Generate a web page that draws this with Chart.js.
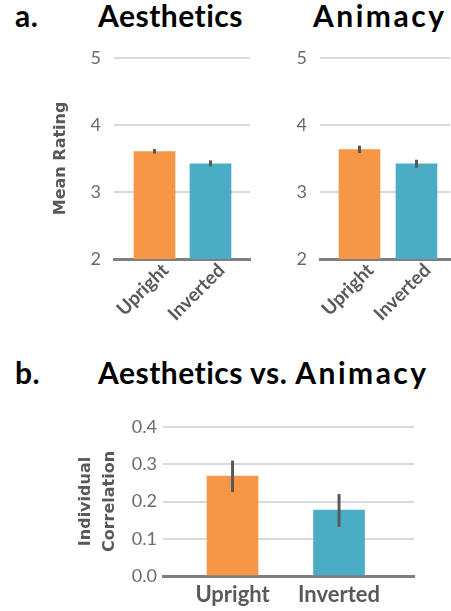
<!DOCTYPE html>
<html>
<head>
<meta charset="utf-8">
<script src="https://cdn.jsdelivr.net/npm/chart.js@4"></script>
<style>
  html, body { margin: 0; padding: 0; background: #fff; overflow: hidden; }
  body { width: 451px; height: 611px; position: relative; font-family: "Lato", sans-serif; }
  canvas { position: absolute; }
  .head { position: absolute; font-weight: 700; font-size: 30px; line-height: 1; color: #000; white-space: nowrap; letter-spacing: 0.5px; }
  .wide { letter-spacing: 2.5px; }
</style>
</head>
<body>
<div class="head" style="left:15px;top:0px;">a.</div>
<div class="head" style="left:98px;top:0px;">Aesthetics</div>
<div class="head wide" style="left:313px;top:0px;">Animacy</div>
<div class="head" style="left:15px;top:357px;">b.</div>
<div class="head" style="left:98px;top:357px;">Aesthetics vs. <span class="wide">Animacy</span></div>

<canvas id="chartA" width="205" height="291" style="left:50px;top:34px;width:205px;height:291px;"></canvas>
<canvas id="chartB" width="181" height="291" style="left:270px;top:34px;width:181px;height:291px;"></canvas>
<canvas id="chartC" width="360" height="201" style="left:60px;top:410px;width:360px;height:201px;"></canvas>

<script>
const cats = ['Upright', 'Inverted'];
const barColors = ['#F79646', '#4BACC6'];

// a. mean ratings (with error bar ends)
const aesMeans = [3.60, 3.42];
const aesLow = [3.57, 3.38];
const aesHigh = [3.64, 3.47];
const aniMeans = [3.63, 3.42];
const aniLow = [3.58, 3.36];
const aniHigh = [3.69, 3.48];
const ratingTicks = [2, 3, 4, 5];

// b. individual correlation
const corrMeans = [0.268, 0.177];
const corrLow = [0.225, 0.132];
const corrHigh = [0.31, 0.22];
const corrTicks = [0, 0.1, 0.2, 0.3, 0.4];

const gray = '#595959';
const tickGray = '#6b6b6b';

const errorBars = {
  id: 'errorBars',
  afterDatasetsDraw(chart, args, opts) {
    const ctx = chart.ctx;
    const x = chart.scales.x, y = chart.scales.y;
    ctx.save();
    ctx.strokeStyle = gray;
    ctx.lineWidth = 3;
    opts.low.forEach((lo, i) => {
      const px = x.getPixelForValue(i);
      ctx.beginPath();
      ctx.moveTo(px, y.getPixelForValue(lo));
      ctx.lineTo(px, y.getPixelForValue(opts.high[i]));
      ctx.stroke();
    });
    ctx.restore();
  }
};

const makeChart = (id, cfg) => {
  const ctx = document.getElementById(id).getContext('2d');
  return new Chart(ctx, {
    type: 'bar',
    data: {
      datasets: [{
        data: cfg.means.map((v, i) => ({x: i, y: v})),
        backgroundColor: barColors,
        borderWidth: 0,
        barThickness: cfg.barWidth
      }]
    },
    options: {
      responsive: false,
      animation: false,
      devicePixelRatio: 1,
      layout: { padding: cfg.padding },
      plugins: {
        legend: { display: false },
        tooltip: { enabled: false },
        errorBars: { low: cfg.low, high: cfg.high }
      },
      scales: {
        x: {
          type: 'linear',
          min: cfg.xMin,
          max: cfg.xMax,
          bounds: 'data',
          offset: false,
          grid: { display: false, drawTicks: false },
          border: { display: true, color: '#7f7f7f', width: 3 },
          afterFit: s => { s.height = cfg.xHeight; },
          afterBuildTicks: s => { s.ticks = cats.map((c, i) => ({value: i})); },
          ticks: {
            autoSkip: false,
            minRotation: cfg.rot,
            maxRotation: cfg.rot,
            padding: cfg.xPad,
            labelOffset: cfg.labelShift,
            color: gray,
            font: { family: 'Lato', size: cfg.xFont, weight: 'bold' },
            callback: v => cats[v] !== undefined ? cats[v] : ''
          }
        },
        y: {
          min: cfg.ticks[0],
          max: cfg.ticks[cfg.ticks.length - 1],
          afterFit: s => { s.width = cfg.yWidth; },
          afterBuildTicks: s => { s.ticks = cfg.ticks.map(v => ({value: v})); },
          grid: { color: '#d9d9d9', lineWidth: 2, drawTicks: false },
          border: { display: false },
          ticks: {
            padding: cfg.yPad,
            color: tickGray,
            font: { family: 'Lato', size: 18 },
            callback: cfg.fmt
          },
          title: {
            display: !!cfg.yTitle,
            text: cfg.yTitle,
            color: gray,
            padding: { top: cfg.titlePad, bottom: 0 },
            font: { family: 'DejaVu Sans', size: 16, weight: 'bold', lineHeight: cfg.titleLH }
          }
        }
      }
    },
    plugins: [errorBars]
  });
};

makeChart('chartA', {
  means: aesMeans, low: aesLow, high: aesHigh, ticks: ratingTicks,
  barWidth: 41, xMin: -0.723, xMax: 1.705, rot: 45, xPad: 0, labelShift: 11, xFont: 19, xHeight: 66,
  yWidth: 64, yPad: 13, padding: { top: 2, right: 5, bottom: 0, left: 0 },
  yTitle: 'Mean Rating', titlePad: 1, titleLH: 1.2,
  fmt: v => String(v)
});

makeChart('chartB', {
  means: aniMeans, low: aniLow, high: aniHigh, ticks: ratingTicks,
  barWidth: 41, xMin: -0.693, xMax: 1.588, rot: 45, xPad: 0, labelShift: 11, xFont: 19, xHeight: 66,
  yWidth: 50, yPad: 13, padding: { top: 2, right: 1, bottom: 0, left: 0 },
  yTitle: '', titlePad: 0, titleLH: 1.2,
  fmt: v => String(v)
});

makeChart('chartC', {
  means: corrMeans, low: corrLow, high: corrHigh, ticks: corrTicks,
  barWidth: 51, xMin: -0.653, xMax: 1.704, rot: 0, xPad: 6, labelShift: 0, xFont: 22, xHeight: 35,
  yWidth: 103, yPad: 6, padding: { top: 17, right: 6, bottom: 0, left: 0 },
  yTitle: ['Individual', 'Correlation'], titlePad: 14, titleLH: 1.5,
  fmt: v => v.toFixed(1)
});
</script>
</body>
</html>
